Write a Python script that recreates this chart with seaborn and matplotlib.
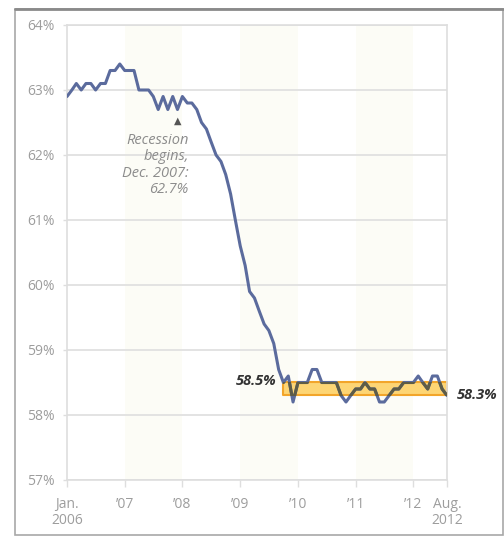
import matplotlib
matplotlib.use("Agg")
import matplotlib.pyplot as plt
from matplotlib.patches import Rectangle
from matplotlib.lines import Line2D
import pandas as pd
import seaborn as sns

# Employment-to-population ratio, monthly, Jan. 2006 - Aug. 2012 (%)
ratio_2006 = [62.9, 63.0, 63.1, 63.0, 63.1, 63.1, 63.0, 63.1, 63.1, 63.3, 63.3, 63.4]
ratio_2007 = [63.3, 63.3, 63.3, 63.0, 63.0, 63.0, 62.9, 62.7, 62.9, 62.7, 62.9, 62.7]
ratio_2008 = [62.9, 62.8, 62.8, 62.7, 62.5, 62.4, 62.2, 62.0, 61.9, 61.7, 61.4, 61.0]
ratio_2009 = [60.6, 60.3, 59.9, 59.8, 59.6, 59.4, 59.3, 59.1, 58.7, 58.5, 58.6, 58.2]
ratio_2010 = [58.5, 58.5, 58.5, 58.7, 58.7, 58.5, 58.5, 58.5, 58.5, 58.3, 58.2, 58.3]
ratio_2011 = [58.4, 58.4, 58.5, 58.4, 58.4, 58.2, 58.2, 58.3, 58.4, 58.4, 58.5, 58.5]
ratio_2012 = [58.5, 58.6, 58.5, 58.4, 58.6, 58.6, 58.4, 58.3]

start_month = "2006-01-01"
recession_month = "2007-12-01"
recession_value = 62.7
band_start = "2009-10-01"
band_high = 58.5
band_low = 58.3

x_tick_dates = ["2006-01-01", "2007-01-01", "2008-01-01", "2009-01-01",
                "2010-01-01", "2011-01-01", "2012-01-01", "2012-08-01"]
x_tick_labels = ["Jan.\n2006", "\u201907", "\u201908", "\u201909",
                 "\u201910", "\u201911", "\u201912", "Aug.\n2012"]
y_ticks = [57, 58, 59, 60, 61, 62, 63, 64]
shaded_years = [(2007, 2008), (2009, 2010), (2011, 2012)]

values = ratio_2006 + ratio_2007 + ratio_2008 + ratio_2009 + ratio_2010 + ratio_2011 + ratio_2012
dates = pd.date_range(start_month, periods=len(values), freq="MS")
df = pd.DataFrame({"date": dates, "ratio": values})

sns.set_theme(style="white")
plt.rcParams["font.family"] = ["Open Sans", "DejaVu Sans"]

LINE_BLUE = "#5b6b9d"
LINE_IN_BAND = "#5e5c46"
GRID = "#dedede"
LABEL_GRAY = "#9d9d9d"

fig = plt.figure(figsize=(5.04, 5.37), dpi=100)
ax = fig.add_axes([67 / 504, 1 - 480 / 537, 380 / 504, 455 / 537])
ax.set_facecolor("white")

# alternating year shading
for a, b in shaded_years:
    ax.axvspan(pd.Timestamp(f"{a}-01-01"), pd.Timestamp(f"{b}-01-01"),
               color="#fcfcf6", zorder=0, lw=0)

# gridlines
ax.set_yticks(y_ticks)
ax.yaxis.grid(True, color=GRID, lw=1.2, zorder=1)
ax.xaxis.grid(False)

# highlighted range since late 2009
band_df = df[df["date"] >= pd.Timestamp(band_start)]
ax.fill_between(band_df["date"], band_low, band_high,
                facecolor="#fdd574", edgecolor="#f2a52a", lw=1.5, zorder=2)

# main series
sns.lineplot(data=df, x="date", y="ratio", ax=ax, color=LINE_BLUE, lw=2.2, zorder=3)

# the part of the line that passes through the band gets a darker tint
clip = ax.fill_between(band_df["date"], band_low - 0.015, band_high + 0.015,
                       facecolor="none", edgecolor="none")
sns.lineplot(data=df, x="date", y="ratio", ax=ax, color=LINE_IN_BAND, lw=2.2, zorder=4)
dark_line = ax.lines[-1]
dark_line.set_clip_path(clip.get_paths()[0], ax.transData)

ax.set_xlim(pd.Timestamp(x_tick_dates[0]), pd.Timestamp(x_tick_dates[-1]))
ax.set_ylim(y_ticks[0], y_ticks[-1])
ax.set_xlabel("")
ax.set_ylabel("")

ax.set_xticks([pd.Timestamp(d) for d in x_tick_dates])
ax.set_xticklabels(x_tick_labels, linespacing=1.1)
ax.set_yticklabels([f"{v}%" for v in y_ticks])
ax.tick_params(axis="x", bottom=True, length=5, width=1, color=GRID, pad=7,
               labelsize=10, labelcolor=LABEL_GRAY)
ax.tick_params(axis="y", left=True, length=3, width=1, color=GRID, pad=6,
               labelsize=10, labelcolor=LABEL_GRAY)

for side in ["left", "right", "bottom", "top"]:
    ax.spines[side].set_visible(True)
    ax.spines[side].set_color(GRID)
    ax.spines[side].set_linewidth(1.2)

# band value labels
ax.annotate(f"{band_high}%", xy=(pd.Timestamp(band_start), band_high),
            xytext=(-5, 1), textcoords="offset points", ha="right", va="center",
            fontsize=10.5, fontweight="bold", fontstyle="italic", color="#333333")
ax.annotate(f"{band_low}%", xy=(df["date"].iloc[-1], band_low),
            xytext=(7, 0), textcoords="offset points", ha="left", va="center",
            fontsize=10.5, fontweight="bold", fontstyle="italic", color="#333333",
            annotation_clip=False)

# recession annotation
rec_date = pd.Timestamp(recession_month)
ax.annotate("\u25B2", xy=(rec_date, recession_value), xytext=(0, -8),
            textcoords="offset points", ha="center", va="center",
            fontsize=7, color="#555555", family="DejaVu Sans")
ax.annotate(f"Recession\nbegins,\nDec. 2007:\n{recession_value}%",
            xy=(rec_date, recession_value), xytext=(8, -17),
            textcoords="offset points", ha="right", va="top", multialignment="right",
            fontsize=10.5, fontstyle="italic", color="#8c8c8c", linespacing=1.12)

# outer frame
fig.add_artist(Rectangle((15 / 504, 1 - 535 / 537), 488 / 504, 526 / 537,
                         transform=fig.transFigure, fill=False,
                         edgecolor="#a8a8a8", lw=1.2))
fig.add_artist(Line2D([15 / 504, 503 / 504], [1 - 9 / 537, 1 - 9 / 537],
                      transform=fig.transFigure, color="#8a8a8a", lw=2))

fig.savefig("out.png", dpi=100, facecolor="white")
